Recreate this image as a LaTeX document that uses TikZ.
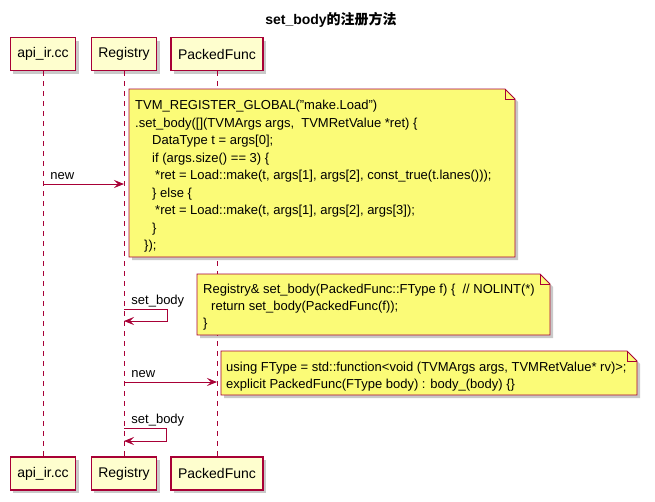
\documentclass[tikz,border=0pt]{standalone}
\usepackage{fontspec}
\setmainfont{Liberation Sans}
\newfontfamily\cjkfont{Noto Sans CJK SC}
\usetikzlibrary{arrows.meta}
\usetikzlibrary{shadows}
\definecolor{umlred}{HTML}{A80036}
\definecolor{actorfill}{HTML}{FEFECE}
\definecolor{notefill}{HTML}{FBFB77}

\begin{document}
\begin{tikzpicture}[x = 1pt, y = -1pt, font = \fontsize{13}{17.3}\selectfont]
	\useasboundingbox (0, 0) rectangle (655, 501);
	\tikzstyle{shadowStyle} = [drop shadow = {shadow xshift = 3pt, shadow yshift = -3pt, opacity = 0.3, fill = black!70}]
	\tikzstyle{actorStyle} = [draw = umlred, line width = 1.3pt, fill = actorfill, minimum height = 33pt, inner xsep = 7pt, font = \fontsize{14}{16}\selectfont, shadowStyle]
	\tikzstyle{lifeStyle} = [draw = umlred, line width = 0.9pt, dash pattern = on 5pt off 5pt]
	\tikzstyle{msgStyle} = [draw = umlred, line width = 0.9pt, -{Stealth[length = 10pt, width = 8pt, inset = 4pt]}]
	\tikzstyle{msgLabel} = [anchor = base west, inner sep = 0pt, xshift = 7pt, yshift = 5pt]
	\tikzstyle{noteStyle} = [draw = umlred, line width = 0.9pt, fill = notefill, line join = miter, shadowStyle]
	\tikzstyle{noteText} = [anchor = north west, inner sep = 0pt, align = left]
	% title
	\node[font = \fontsize{14}{16}\selectfont\bfseries] (title) at (331, 20) {set\_body{\cjkfont 的注册方法}};
	% participants
	\node[actorStyle] (api) at (43, 54) {api\_ir.cc};
	\node[actorStyle] (reg) at (124, 54) {Registry};
	\node[actorStyle] (pf) at (217, 54) {PackedFunc};
	\node[actorStyle] (apiB) at (43, 473.5) {api\_ir.cc};
	\node[actorStyle] (regB) at (124, 473.5) {Registry};
	\node[actorStyle] (pfB) at (217, 473.5) {PackedFunc};
	\draw[lifeStyle] (api) -- (apiB);
	\draw[lifeStyle] (reg) -- (regB);
	\draw[lifeStyle] (pf) -- (pfB);
	% messages
	\coordinate (new1A) at (43, 184);
	\coordinate (new1B) at (124, 184);
	\draw[msgStyle] (new1A) -- node[msgLabel, at start] {new} (new1B);
	\coordinate (self1A) at (124, 309);
	\coordinate (self1B) at (167, 309);
	\coordinate (self1C) at (167, 321);
	\coordinate (self1D) at (124, 321);
	\draw[msgStyle] (self1A) -- node[msgLabel, at start] {set\_body} (self1B) -- (self1C) -- (self1D);
	\coordinate (new2A) at (124, 382);
	\coordinate (new2B) at (217, 382);
	\draw[msgStyle] (new2A) -- node[msgLabel, at start] {new} (new2B);
	\coordinate (self2A) at (124, 428);
	\coordinate (self2B) at (166, 428);
	\coordinate (self2C) at (166, 441);
	\coordinate (self2D) at (124, 441);
	\draw[msgStyle] (self2A) -- node[msgLabel, at start] {set\_body} (self2B) -- (self2C) -- (self2D);
	% notes
	\draw[noteStyle] (129, 89) -- (505, 89) -- (515, 99) -- (515, 257) -- (129, 257) -- cycle;
	\draw[umlred, line width = 0.9pt] (505, 89) -- (505, 99) -- (515, 99);
	\node[noteText, font = \fontsize{13}{17.5}\selectfont] (note1) at (135, 100) {TVM\_REGISTER\_GLOBAL("make.Load")\\
		.set\_body([](TVMArgs args,\ \ TVMRetValue *ret) \{\\
		\hspace*{17pt}DataType t = args[0];\\
		\hspace*{17pt}if (args.size() == 3) \{\\
		\hspace*{20pt}*ret = Load::make(t, args[1], args[2], const\_true(t.lanes()));\\
		\hspace*{17pt}\} else \{\\
		\hspace*{20pt}*ret = Load::make(t, args[1], args[2], args[3]);\\
		\hspace*{17pt}\}\\
		\hspace*{9pt}\});};
	\draw[noteStyle] (197, 274) -- (540, 274) -- (550, 284) -- (550, 335) -- (197, 335) -- cycle;
	\draw[umlred, line width = 0.9pt] (540, 274) -- (540, 284) -- (550, 284);
	\node[noteText, font = \fontsize{13}{17}\selectfont] (note2) at (203, 284) {Registry\& set\_body(PackedFunc::FType f) \{\ \ // NOLINT(*)\\
		\hspace*{8pt}return set\_body(PackedFunc(f));\\
		\}};
	\draw[noteStyle] (221, 351) -- (627, 351) -- (637, 361) -- (637, 395) -- (221, 395) -- cycle;
	\draw[umlred, line width = 0.9pt] (627, 351) -- (627, 361) -- (637, 361);
	\node[noteText, font = \fontsize{13}{17}\selectfont] (note3) at (226, 362) {using FType = std::function<void (TVMArgs args, TVMRetValue* rv)>;\\
		explicit PackedFunc(FType body) : body\_(body) \{\}};
\end{tikzpicture}
\end{document}
